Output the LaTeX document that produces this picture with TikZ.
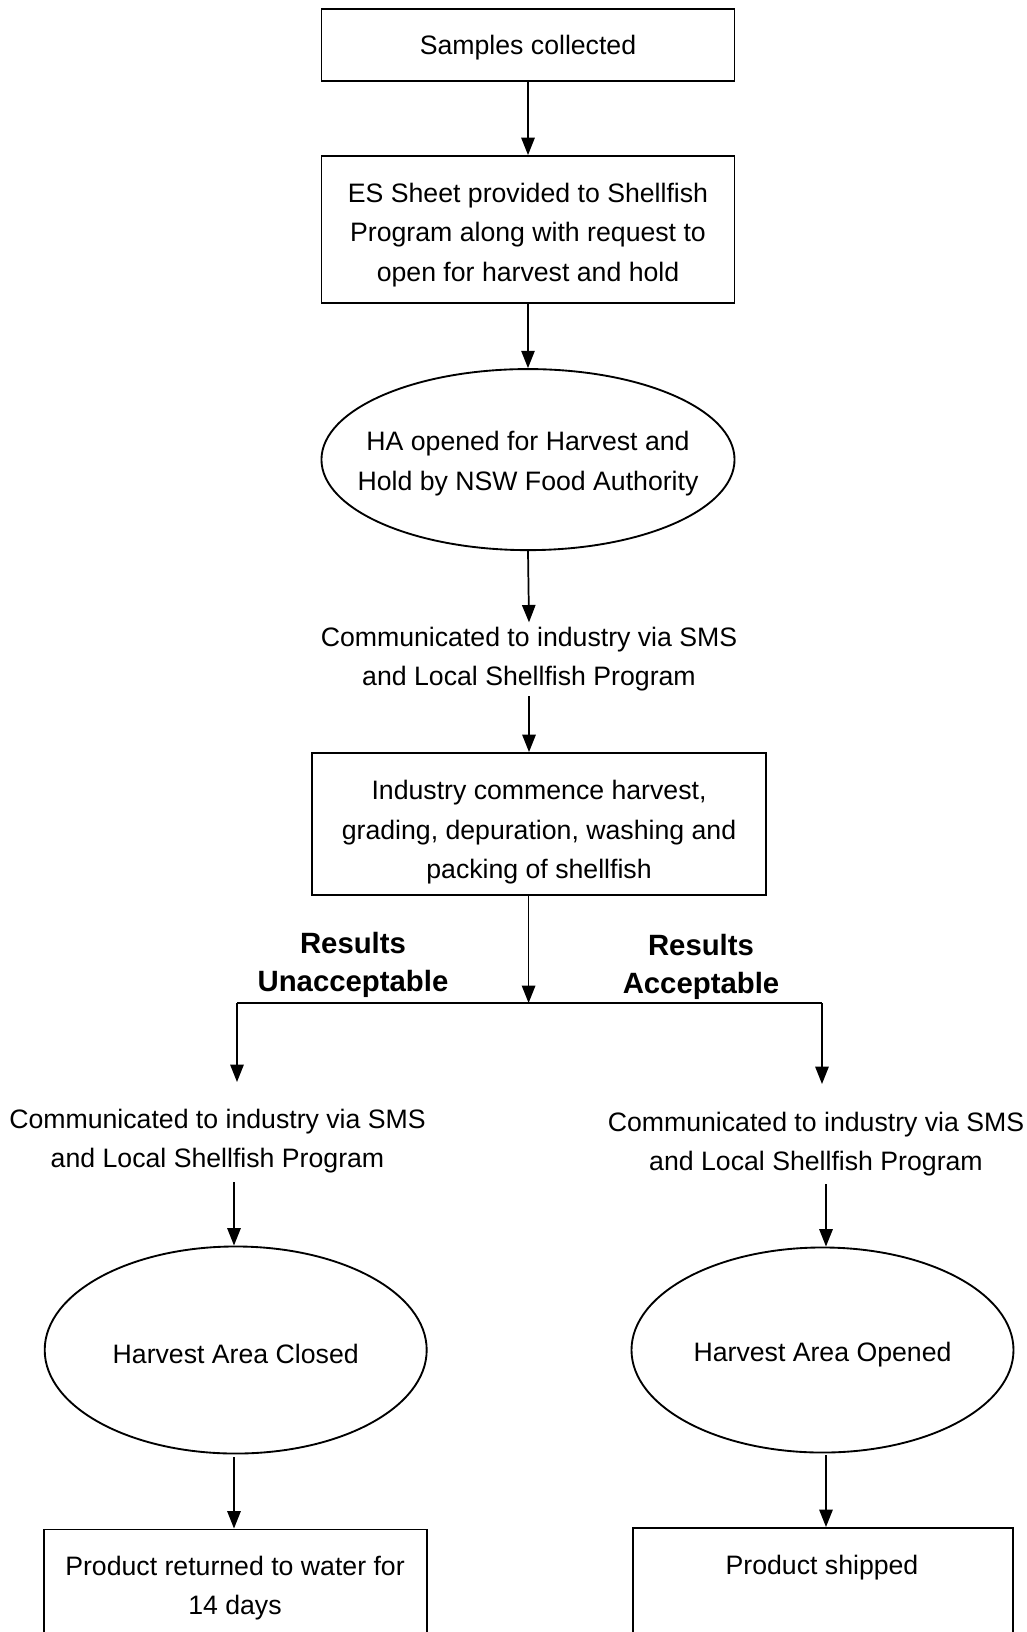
\documentclass[tikz,border=0pt]{standalone}
\usepackage{fontspec}
\setmainfont{Liberation Sans}
\usetikzlibrary{shapes.geometric,arrows.meta}
\begin{document}
\begin{tikzpicture}[x=0.75pt,y=-0.75pt,
  every node/.style={font=\fontsize{20}{29.6}\selectfont},
  box/.style={draw, line width=1.4pt, inner sep=0pt},
  ell/.style={draw, ellipse, line width=1.4pt, inner sep=0pt},
  txt/.style={align=center},
  lbl/.style={align=center, font=\fontsize{22}{28.5}\selectfont\bfseries},
  arr/.style={-{Triangle[width=10pt,length=13pt]}, line width=1.3pt}]
\useasboundingbox (0,0) rectangle (1027,1632);
\fill[white] (0,0) rectangle (1027,1632);
\clip (0,0) rectangle (1027,1632);

% top chain
\node[box, minimum width=309.8pt, minimum height=54pt] (b1) at (528,45.3) {};
\node[txt] (b1t) at (528,47.3) {Samples collected};
\node[box, minimum width=309.8pt, minimum height=110.1pt] (b2) at (528,229.4) {};
\node[txt] (b2t) at (528,234.7) {ES Sheet provided to Shellfish\\Program along with request to\\open for harvest and hold};
\node[ell, minimum width=309.8pt, minimum height=135.8pt] (e1) at (528,459.6) {};
\node[txt] (e1t) at (528,463.7) {HA opened for Harvest and\\Hold by NSW Food Authority};
\node[txt] (t1) at (529,659.2) {Communicated to industry via SMS\\and Local Shellfish Program};
\node[box, minimum width=340.5pt, minimum height=106.5pt] (b3) at (539,824) {};
\node[txt] (b3t) at (539,832.5) {Industry commence harvest,\\grading, depuration, washing and\\packing of shellfish};

\draw[arr] (b1.south) -- (b2.north);
\draw[arr] (b2.south) -- (e1.north);
\draw[arr] (e1.south) -- (t1.north);
\draw[arr] (t1.south) -- (t1.south |- b3.north);

% branch
\coordinate (j) at (528.6,1003);
\coordinate (jL) at (237,1003);
\coordinate (jR) at (822,1003);
\coordinate (aL) at (237,1082);
\coordinate (aR) at (822,1084);
\draw[arr] (b3.south -| j) -- (j);
\draw[line width=1.3pt] (jL) -- (jR);
\draw[arr] (jL) -- (aL);
\draw[arr] (jR) -- (aR);
\node[lbl] (lu) at (353,964.6) {Results\\Unacceptable};
\node[lbl] (la) at (701,966.5) {Results\\Acceptable};

% left column
\node[txt] (tL) at (217.5,1141.1) {Communicated to industry via SMS\\and Local Shellfish Program};
\node[ell, minimum width=286.5pt, minimum height=155.3pt] (eL) at (235.7,1350) {};
\node[txt] (eLt) at (235.7,1354) {Harvest Area Closed};
\node[box, minimum width=287.2pt, minimum height=200pt, anchor=north] (bL) at (235.2,1528.5) {};
\node[txt] (bLt) at (235,1588) {Product returned to water for\\14 days};
\coordinate (cL1) at (234,1182);
\draw[arr] (cL1) -- (cL1 |- eL.north);
\coordinate (cL2) at (234,1457);
\draw[arr] (cL2) -- (cL2 |- bL.north);

% right column
\node[txt] (tR) at (816,1144.1) {Communicated to industry via SMS\\and Local Shellfish Program};
\node[ell, minimum width=286.5pt, minimum height=153.8pt] (eR) at (822.5,1350) {};
\node[txt] (eRt) at (822.5,1355) {Harvest Area Opened};
\node[box, minimum width=285.6pt, minimum height=200pt, anchor=north] (bR) at (823,1527) {};
\node[txt] (bRt) at (822,1568) {Product shipped};
\coordinate (cR1) at (826,1184);
\draw[arr] (cR1) -- (cR1 |- eR.north);
\coordinate (cR2) at (826,1455);
\draw[arr] (cR2) -- (cR2 |- bR.north);
\end{tikzpicture}
\end{document}
